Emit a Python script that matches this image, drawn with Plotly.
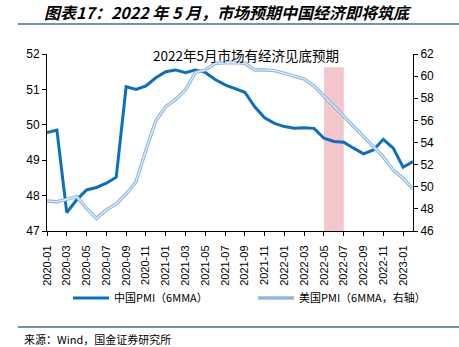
import plotly.graph_objects as go

months = [f"{y}-{m:02d}" for y in (2020, 2021, 2022) for m in range(1, 13)] + ["2023-01", "2023-02"]

china_pmi = [49.78, 49.85, 47.52, 47.88, 48.16, 48.23, 48.35, 48.52, 51.08, 51.0,
             51.1, 51.33, 51.5, 51.55, 51.47, 51.55, 51.48, 51.28, 51.13, 51.03,
             50.92, 50.51, 50.2, 50.04, 49.95, 49.9, 49.92, 49.9, 49.62, 49.53,
             49.51, 49.34, 49.18, 49.29, 49.59, 49.34, 48.8, 48.96]

us_pmi = [48.71, 48.65, 48.86, 49.1, 48.05, 47.14, 47.9, 48.44, 49.34, 50.45,
          53.32, 55.97, 57.24, 57.9, 58.74, 60.34, 60.55, 61.16, 61.2, 61.22,
          61.16, 60.55, 60.55, 60.5, 60.25, 60.0, 59.74, 59.1, 58.2, 57.3,
          56.33, 55.49, 54.59, 53.62, 52.7, 51.5, 50.76, 49.8]

tick_labels = months[0:37:2]
shade_start, shade_end, shade_top = "2022-05", "2022-07", 60.8

title_text = "图表17：2022 年 5 月，市场预期中国经济即将筑底"
note_text = "2022年5月市场有经济见底预期"
source_text = "来源：Wind，国金证券研究所"
china_name = "中国PMI（6MMA）"
us_name = "美国PMI（6MMA，右轴）"

CJK = "Noto Sans CJK SC"
NUM = "Liberation Sans, Arial"

fig = go.Figure()

fig.add_trace(go.Scatter(x=months, y=china_pmi, mode="lines", name=china_name,
                         line=dict(color="#0A6FC2", width=3), yaxis="y"))
fig.add_trace(go.Scatter(x=months, y=us_pmi, mode="lines", name=us_name,
                         line=dict(color="#8DB9E3", width=3.4), yaxis="y2"))
fig.add_trace(go.Scatter(x=months, y=us_pmi, mode="lines", showlegend=False, hoverinfo="skip",
                         line=dict(color="rgba(255,255,255,0.8)", width=1.1), yaxis="y2"))

fig.add_shape(type="rect", xref="x", yref="y2", x0=shade_start, x1=shade_end,
              y0=46, y1=shade_top, fillcolor="#F2C6CA", line=dict(width=0), layer="below")

fig.update_layout(
    width=459, height=347,
    margin=dict(l=47, r=46, t=54, b=116),
    paper_bgcolor="white", plot_bgcolor="white",
    font=dict(family=CJK, size=11, color="black"),
    showlegend=True,
    legend=dict(orientation="h", x=(68 - 47) / 366, xanchor="left", y=-(298 - 231) / 177,
                yanchor="middle", bgcolor="rgba(0,0,0,0)",
                font=dict(family=CJK, size=11), itemwidth=36, tracegroupgap=0,
                entrywidthmode="pixels", entrywidth=134),
    xaxis=dict(type="category", categoryorder="array", categoryarray=months,
               range=[0, 37], tickmode="array", tickvals=tick_labels, ticktext=tick_labels,
               tickangle=-90, ticks="outside", ticklen=4, tickcolor="black",
               ticklabelstandoff=5,
               showline=True, linecolor="black", linewidth=1, showgrid=False, zeroline=False,
               tickfont=dict(family=NUM, size=11)),
    yaxis=dict(range=[47, 52], dtick=1, ticks="outside", ticklen=4, tickcolor="black",
               showline=True, linecolor="black", linewidth=1, showgrid=False, zeroline=False,
               tickfont=dict(family=NUM, size=12)),
    yaxis2=dict(range=[46, 62], dtick=2, overlaying="y", side="right", ticks="outside",
                ticklen=4, tickcolor="black", showline=True, linecolor="black", linewidth=1,
                showgrid=False, zeroline=False, tickfont=dict(family=NUM, size=12)),
)

fig.add_annotation(text=f"<b><i>{title_text}</i></b>", xref="paper", yref="paper",
                   x=(228 - 47) / 366, y=1 + (54 - 12) / 177, xanchor="center", yanchor="middle",
                   showarrow=False, font=dict(family=CJK, size=16, color="black"))
fig.add_shape(type="line", xref="paper", yref="paper", x0=-29/366, x1=412/366,
              y0=1 + (54 - 24) / 177, y1=1 + (54 - 24) / 177,
              line=dict(color="#3E6F93", width=1.5))
fig.add_annotation(text=note_text, xref="paper", yref="paper", x=(246 - 47) / 366,
                   y=1 - (55 - 54) / 177, xanchor="center", yanchor="middle",
                   showarrow=False, font=dict(family=CJK, size=13.5, color="black"))
fig.add_shape(type="line", xref="paper", yref="paper", x0=-29/366, x1=412/366,
              y0=-(327 - 231) / 177, y1=-(327 - 231) / 177,
              line=dict(color="#3E6F93", width=1.5))
fig.add_annotation(text=source_text, xref="paper", yref="paper", x=-25/366,
                   y=-(339 - 231) / 177, xanchor="left", yanchor="middle",
                   showarrow=False, font=dict(family=CJK, size=11, color="black"))

fig.write_html("out.html")
